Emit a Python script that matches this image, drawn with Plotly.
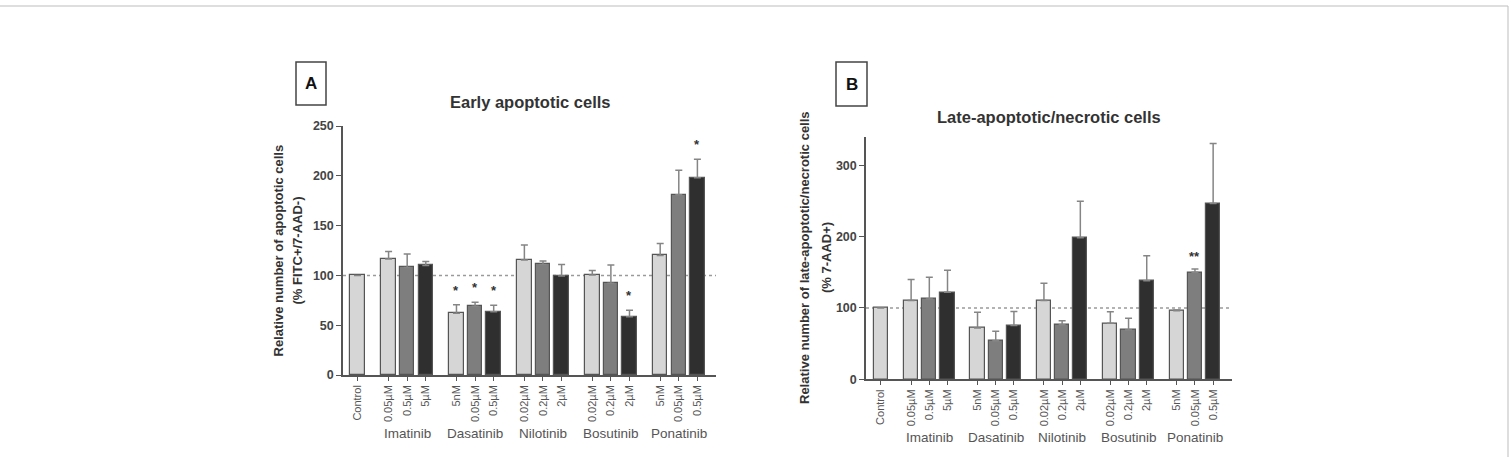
import plotly.graph_objects as go

# ---------------- data ----------------
control_label = "Control"
groups = ["Imatinib", "Dasatinib", "Nilotinib", "Bosutinib", "Ponatinib"]
doses = [
    ["0.05µM", "0.5µM", "5µM"],
    ["5nM", "0.05µM", "0.5µM"],
    ["0.02µM", "0.2µM", "2µM"],
    ["0.02µM", "0.2µM", "2µM"],
    ["5nM", "0.05µM", "0.5µM"],
]

# Panel A: early apoptotic cells (control first, then groups in order)
early_mean = [100, 116.5, 108, 110, 62, 69, 63.5, 115.5, 111, 99.5, 100.5, 92, 58.5, 120, 181, 198]
early_sem = [0, 7.5, 13.5, 4, 8.5, 4, 6.5, 15, 3.5, 11.5, 4.5, 18.5, 6.5, 12, 24.5, 18.5]
early_sig = ["", "", "", "", "*", "*", "*", "", "", "", "", "", "*", "", "", "*"]

# Panel B: late-apoptotic / necrotic cells
late_mean = [100, 110.5, 112.5, 122, 72, 54, 75.5, 110.5, 76.5, 198.5, 78.5, 69, 138, 96, 150, 246.5]
late_sem = [0, 29.5, 30.5, 31, 22, 13.5, 19.5, 24, 5.5, 51, 16, 16.5, 35, 1, 4.5, 84]
late_sig = ["", "", "", "", "", "", "", "", "", "", "", "", "", "", "**", ""]

early_ticks = [0, 50, 100, 150, 200, 250]
late_ticks = [0, 100, 200, 300]

# ---------------- layout helpers ----------------
W, H = 1510, 457
shade = ["#d6d6d6", "#7e7e7e", "#2f2f2f"]
FONT = "Liberation Sans, Arial, sans-serif"

xpos = [0.0]
ticktext = [control_label]
colors = [shade[0]]
group_centers = []
for g, ds in enumerate(doses):
    start = 1.67 + 3.65 * g
    for j, d in enumerate(ds):
        xpos.append(start + j)
        ticktext.append(d)
        colors.append(shade[j])
    group_centers.append(start + 1)


def px_x(p):
    return p / W


def px_y(p):
    return 1 - p / H


fig = go.Figure()

panels = [
    dict(mean=early_mean, sem=early_sem, sig=early_sig, xa="x", ya="y",
         xdom=[343, 716], ydom=[126, 375], yr=[0, 250], xr=[-0.78, 19.27],
         ticks=early_ticks, title="Early apoptotic cells", title_y=102,
         ylab1="Relative number of apoptotic cells", ylab2="(% FITC+/7-AAD-)",
         ylab_x=[278, 297], letter="A", box=[296, 62, 326, 105], grp_y=433, star_shift=5),
    dict(mean=late_mean, sem=late_sem, sig=late_sig, xa="x2", ya="y2",
         xdom=[866, 1231.7], ydom=[136.7, 379.3], yr=[0, 340], xr=[-0.81, 19.29],
         ticks=late_ticks, title="Late-apoptotic/necrotic cells", title_y=117,
         ylab1="Relative number of late-apoptotic/necrotic cells", ylab2="(% 7-AAD+)",
         ylab_x=[804, 826], letter="B", box=[836, 62, 867, 106], grp_y=437, star_shift=3),
]

annotations = []
shapes = []

for i, P in enumerate(panels):
    fig.add_trace(go.Bar(
        x=xpos, y=P["mean"], width=0.78, xaxis=P["xa"], yaxis=P["ya"],
        marker=dict(color=colors, line=dict(color="#555555", width=1.2)),
        error_y=dict(type="data", symmetric=False, array=P["sem"],
                     arrayminus=[0] * len(P["sem"]), color="#858585",
                     thickness=1.5, width=3.5),
        showlegend=False, hoverinfo="skip",
    ))
    sfx = "" if i == 0 else "2"
    fig.update_layout(**{
        "xaxis" + sfx: dict(
            domain=[px_x(P["xdom"][0]), px_x(P["xdom"][1])], range=P["xr"],
            anchor="y" + sfx, tickmode="array", tickvals=xpos, ticktext=ticktext,
            tickangle=-90, ticks="outside", ticklen=4, tickwidth=1, tickcolor="#555",
            showline=True, linecolor="#555", linewidth=1.5, showgrid=False, zeroline=False,
            tickfont=dict(family=FONT, size=11, color="#555"), fixedrange=True,
            automargin=False,
        ),
        "yaxis" + sfx: dict(
            domain=[px_y(P["ydom"][1]), px_y(P["ydom"][0])], range=P["yr"],
            anchor="x" + sfx, tickmode="array", tickvals=P["ticks"],
            ticks="outside", ticklen=5, tickwidth=1.2, tickcolor="#555",
            showline=True, linecolor="#555", linewidth=1.5, showgrid=False, zeroline=False,
            tickfont=dict(family=FONT, size=12.5, color="#444", weight="bold"), fixedrange=True,
            automargin=False,
        ),
    })
    # dashed reference line at 100 %
    shapes.append(dict(type="line", xref=P["xa"], yref=P["ya"], x0=P["xr"][0], x1=P["xr"][1],
                       y0=100, y1=100, layer="below",
                       line=dict(color="#9a9a9a", width=1.5, dash="3px,3px")))
    # significance marks
    for xv, m, s, sg in zip(xpos, P["mean"], P["sem"], P["sig"]):
        if sg:
            annotations.append(dict(x=xv, y=m + s, xref=P["xa"], yref=P["ya"], text=sg,
                                    showarrow=False, xanchor="center", yanchor="bottom",
                                    yshift=P["star_shift"],
                                    font=dict(family=FONT, size=13, color="#333", weight="bold")))
    # group labels
    for gc, gname in zip(group_centers, groups):
        annotations.append(dict(x=gc, y=px_y(P["grp_y"]), xref=P["xa"], yref="paper", text=gname,
                                showarrow=False, xanchor="center", yanchor="middle",
                                font=dict(family=FONT, size=13.5, color="#555")))
    # title
    annotations.append(dict(x=px_x((P["xdom"][0] + P["xdom"][1]) / 2), y=px_y(P["title_y"]),
                            xref="paper", yref="paper", text=P["title"], showarrow=False,
                            xanchor="center", yanchor="middle",
                            font=dict(family=FONT, size=16.5, color="#333", weight="bold")))
    # y axis titles
    yc = px_y((P["ydom"][0] + P["ydom"][1]) / 2)
    for lx, lt in zip(P["ylab_x"], [P["ylab1"], P["ylab2"]]):
        annotations.append(dict(x=px_x(lx), y=yc, xref="paper", yref="paper", text=lt,
                                textangle=-90, showarrow=False, xanchor="center", yanchor="middle",
                                font=dict(family=FONT, size=13, color="#333", weight="bold")))
    # panel letter box
    bx0, by0, bx1, by1 = P["box"]
    shapes.append(dict(type="rect", xref="paper", yref="paper",
                       x0=px_x(bx0), x1=px_x(bx1), y0=px_y(by1), y1=px_y(by0),
                       line=dict(color="#444", width=1.5)))
    annotations.append(dict(x=px_x((bx0 + bx1) / 2), y=px_y((by0 + by1) / 2), xref="paper",
                            yref="paper", text=P["letter"], showarrow=False,
                            xanchor="center", yanchor="middle",
                            font=dict(family=FONT, size=17, color="#111", weight="bold")))

# outer page frame
shapes.append(dict(type="rect", xref="paper", yref="paper", x0=-0.01, x1=px_x(1508),
                   y0=-0.05, y1=px_y(6), line=dict(color="#bdbdbd", width=1)))

fig.update_layout(
    width=W, height=H, margin=dict(l=0, r=0, t=0, b=0, autoexpand=False),
    paper_bgcolor="white", plot_bgcolor="white",
    annotations=annotations, shapes=shapes, bargap=0,
    font=dict(family=FONT),
)

fig.write_html("out.html")
